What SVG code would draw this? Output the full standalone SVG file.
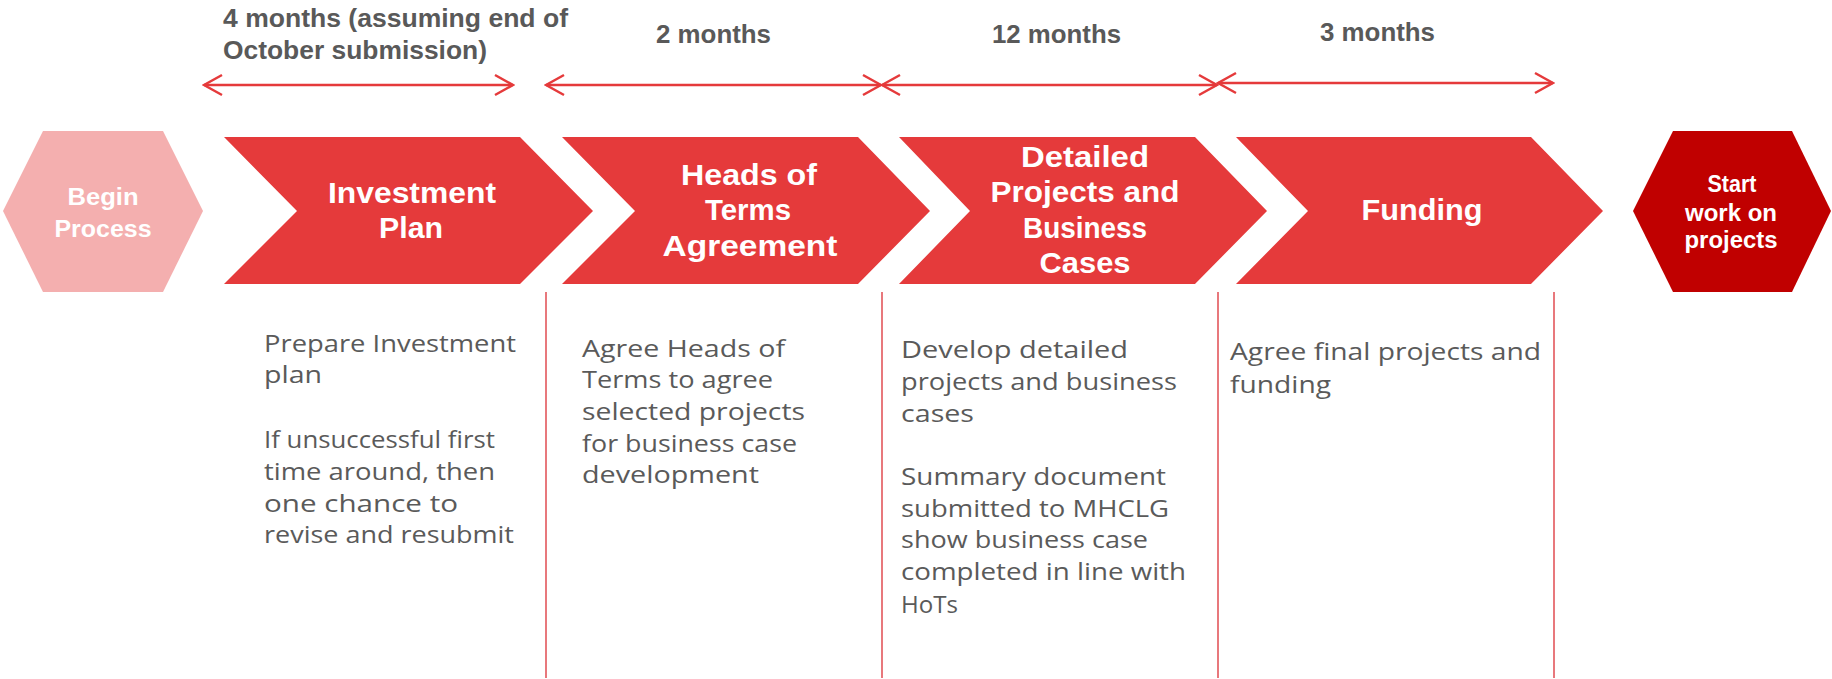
<svg xmlns="http://www.w3.org/2000/svg" width="1832" height="679" viewBox="0 0 1832 679">
  <style>
    .hdr { font-family: "Liberation Sans", Arial, sans-serif; font-weight: bold; font-size: 25px; fill: #595959; }
    .ttl { font-family: "Liberation Sans", Arial, sans-serif; font-weight: bold; font-size: 30px; fill: #ffffff; text-anchor: middle; }
    .ttl-s { font-family: "Liberation Sans", Arial, sans-serif; font-weight: bold; font-size: 23px; fill: #ffffff; text-anchor: middle; }
    .body { font-family: "Open Sans", "Liberation Sans", sans-serif; font-size: 24px; fill: #5a5a5a; }
    .chev { fill: #e53a3b; }
    .span { stroke: #e53a3b; stroke-width: 2.5; fill: none; marker-start: url(#head); marker-end: url(#head); }
    .divider { stroke: #e8787c; stroke-width: 2; }
  </style>
  <defs>
    <marker id="head" markerUnits="userSpaceOnUse" viewBox="0 0 22 24" refX="20" refY="12" markerWidth="22" markerHeight="24" orient="auto-start-reverse">
      <path d="M2,2 L20,12 L2,22" fill="none" stroke="#e53a3b" stroke-width="2.5"/>
    </marker>
  </defs>

  <!-- duration labels -->
  <g id="durations">
    <text class="hdr" x="223" y="27" textLength="345" lengthAdjust="spacingAndGlyphs">4 months (assuming end of</text>
    <text class="hdr" x="223" y="59" textLength="264" lengthAdjust="spacingAndGlyphs">October submission)</text>
    <text class="hdr" x="656" y="43" textLength="115" lengthAdjust="spacingAndGlyphs">2 months</text>
    <text class="hdr" x="992" y="43" textLength="129" lengthAdjust="spacingAndGlyphs">12 months</text>
    <text class="hdr" x="1320" y="41" textLength="115" lengthAdjust="spacingAndGlyphs">3 months</text>
  </g>

  <!-- duration spans and column dividers -->
  <g id="connectors">
    <line class="span" x1="204" y1="85" x2="513" y2="85"/>
    <line class="span" x1="546" y1="85" x2="881" y2="85"/>
    <line class="span" x1="882" y1="85" x2="1217" y2="85"/>
    <line class="span" x1="1218" y1="83" x2="1553" y2="83"/>
    <line class="divider" x1="546" y1="292" x2="546" y2="678"/>
    <line class="divider" x1="882" y1="292" x2="882" y2="678"/>
    <line class="divider" x1="1218" y1="292" x2="1218" y2="678"/>
    <line class="divider" x1="1554" y1="292" x2="1554" y2="678"/>
  </g>

  <g id="begin">
    <polygon points="3,211 43,131 163,131 203,211 163,292 43,292" fill="#f4afaf"/>
    <text class="ttl-s" x="103" y="205" font-size="24" textLength="71" lengthAdjust="spacingAndGlyphs">Begin</text>
    <text class="ttl-s" x="103" y="237" font-size="24" textLength="97" lengthAdjust="spacingAndGlyphs">Process</text>
  </g>

  <g id="investment-plan">
    <polygon class="chev" points="224,137 520,137 593,211 520,284 224,284 297,211"/>
    <text class="ttl" x="412" y="203" textLength="168" lengthAdjust="spacingAndGlyphs">Investment</text>
    <text class="ttl" x="411" y="238" textLength="64" lengthAdjust="spacingAndGlyphs">Plan</text>
    <text class="body" x="264" y="352" textLength="252" lengthAdjust="spacingAndGlyphs">Prepare Investment</text>
    <text class="body" x="264" y="383" textLength="58" lengthAdjust="spacingAndGlyphs">plan</text>
    <text class="body" x="264" y="448" textLength="231" lengthAdjust="spacingAndGlyphs">If unsuccessful first</text>
    <text class="body" x="264" y="480" textLength="231" lengthAdjust="spacingAndGlyphs">time around, then</text>
    <text class="body" x="264" y="512" textLength="194" lengthAdjust="spacingAndGlyphs">one chance to</text>
    <text class="body" x="264" y="543" textLength="250" lengthAdjust="spacingAndGlyphs">revise and resubmit</text>
  </g>

  <g id="heads-of-terms">
    <polygon class="chev" points="562,137 858,137 930,211 858,284 562,284 635,211"/>
    <text class="ttl" x="749" y="185" textLength="136" lengthAdjust="spacingAndGlyphs">Heads of</text>
    <text class="ttl" x="748" y="220" textLength="86" lengthAdjust="spacingAndGlyphs">Terms</text>
    <text class="ttl" x="750" y="256" textLength="175" lengthAdjust="spacingAndGlyphs">Agreement</text>
    <text class="body" x="582" y="357" textLength="203" lengthAdjust="spacingAndGlyphs">Agree Heads of</text>
    <text class="body" x="582" y="388" textLength="191" lengthAdjust="spacingAndGlyphs">Terms to agree</text>
    <text class="body" x="582" y="420" textLength="223" lengthAdjust="spacingAndGlyphs">selected projects</text>
    <text class="body" x="582" y="452" textLength="215" lengthAdjust="spacingAndGlyphs">for business case</text>
    <text class="body" x="582" y="483" textLength="177" lengthAdjust="spacingAndGlyphs">development</text>
  </g>

  <g id="detailed-projects">
    <polygon class="chev" points="899,137 1195,137 1267,211 1195,284 899,284 970,211"/>
    <text class="ttl" x="1085" y="167" textLength="128" lengthAdjust="spacingAndGlyphs">Detailed</text>
    <text class="ttl" x="1085" y="202" textLength="189" lengthAdjust="spacingAndGlyphs">Projects and</text>
    <text class="ttl" x="1085" y="238" textLength="124" lengthAdjust="spacingAndGlyphs">Business</text>
    <text class="ttl" x="1085" y="273" textLength="91" lengthAdjust="spacingAndGlyphs">Cases</text>
    <text class="body" x="901" y="358" textLength="227" lengthAdjust="spacingAndGlyphs">Develop detailed</text>
    <text class="body" x="901" y="390" textLength="276" lengthAdjust="spacingAndGlyphs">projects and business</text>
    <text class="body" x="901" y="422" textLength="73" lengthAdjust="spacingAndGlyphs">cases</text>
    <text class="body" x="901" y="485" textLength="265" lengthAdjust="spacingAndGlyphs">Summary document</text>
    <text class="body" x="901" y="517" textLength="268" lengthAdjust="spacingAndGlyphs">submitted to MHCLG</text>
    <text class="body" x="901" y="548" textLength="247" lengthAdjust="spacingAndGlyphs">show business case</text>
    <text class="body" x="901" y="580" textLength="285" lengthAdjust="spacingAndGlyphs">completed in line with</text>
    <text class="body" x="901" y="613" textLength="57" lengthAdjust="spacingAndGlyphs">HoTs</text>
  </g>

  <g id="funding">
    <polygon class="chev" points="1236,137 1531,137 1603,211 1531,284 1236,284 1308,211"/>
    <text class="ttl" x="1422" y="220" textLength="121" lengthAdjust="spacingAndGlyphs">Funding</text>
    <text class="body" x="1230" y="360" textLength="311" lengthAdjust="spacingAndGlyphs">Agree final projects and</text>
    <text class="body" x="1230" y="393" textLength="101" lengthAdjust="spacingAndGlyphs">funding</text>
  </g>

  <g id="start-work">
    <polygon points="1633,211 1673,131 1792,131 1831,211 1792,292 1673,292" fill="#c00000"/>
    <text class="ttl-s" x="1732" y="192" textLength="49" lengthAdjust="spacingAndGlyphs">Start</text>
    <text class="ttl-s" x="1731" y="221" textLength="92" lengthAdjust="spacingAndGlyphs">work on</text>
    <text class="ttl-s" x="1731" y="248" textLength="93" lengthAdjust="spacingAndGlyphs">projects</text>
  </g>
</svg>
